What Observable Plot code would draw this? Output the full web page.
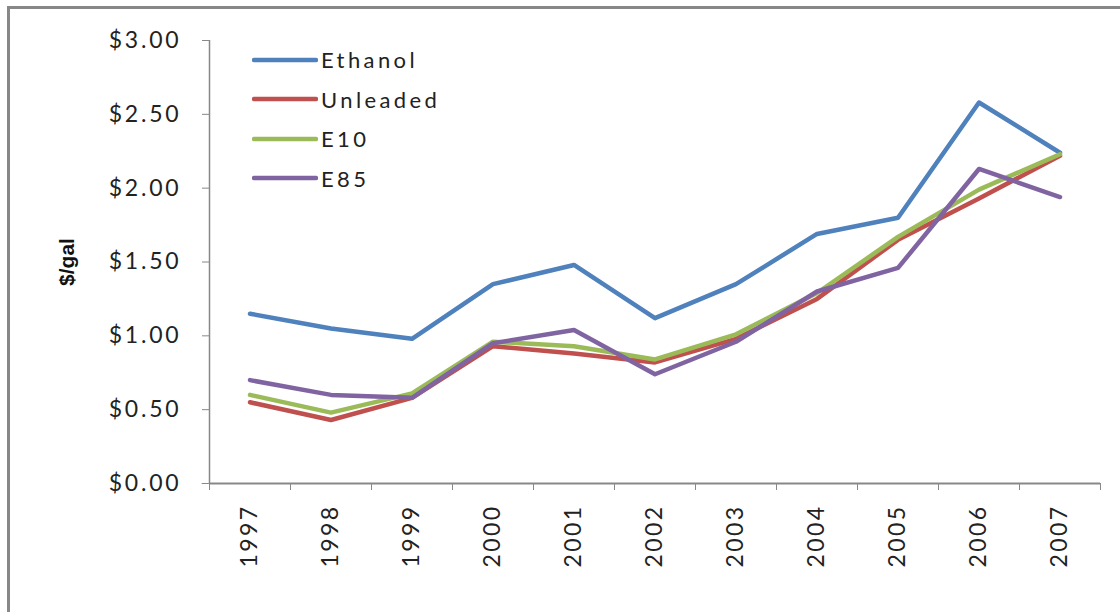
<!DOCTYPE html>
<html>
<head>
<meta charset="utf-8">
<script src="https://cdn.jsdelivr.net/npm/d3@7"></script>
<script src="https://cdn.jsdelivr.net/npm/@observablehq/plot@0.6"></script>
<style>
  html, body { margin: 0; padding: 0; background: #fff; }
  #wrap { position: relative; width: 1120px; height: 612px; overflow: hidden; }
  #frame { position: absolute; left: 7px; top: 6px; width: 1200px; height: 700px;
           border-left: 3px solid #888; border-top: 3px solid #888; }
  #chart { position: absolute; left: 0; top: 0; }
  #legend { position: absolute; left: 252px; top: 40px; font-family: Lato, sans-serif;
            font-size: 22px; letter-spacing: 3.4px; color: #222; }
  .item { display: flex; align-items: center; height: 39.5px; }
  .item svg { margin-right: 3px; }
  #ylabel { position: absolute; left: 67px; top: 262px; transform: translate(-50%, -50%) rotate(-90deg);
            font-family: "Liberation Sans", Arial, sans-serif; font-weight: bold; font-size: 21px; color: #111; white-space: nowrap; }
</style>
</head>
<body>
<div id="wrap">
  <div id="frame"></div>
  <div id="chart"></div>
  <div id="legend"></div>
  <div id="ylabel">$/gal</div>
</div>
<script>
const years = [1997, 1998, 1999, 2000, 2001, 2002, 2003, 2004, 2005, 2006, 2007];
const seriesNames = ["Ethanol", "Unleaded", "E10", "E85"];
const seriesColors = ["#4F81BD", "#C0504D", "#9BBB59", "#8064A2"];
const ethanol  = [1.15, 1.05, 0.98, 1.35, 1.48, 1.12, 1.35, 1.69, 1.80, 2.58, 2.24];
const unleaded = [0.55, 0.43, 0.58, 0.93, 0.88, 0.82, 0.98, 1.25, 1.65, 1.93, 2.22];
const e10      = [0.60, 0.48, 0.61, 0.96, 0.93, 0.84, 1.01, 1.29, 1.67, 1.99, 2.23];
const e85      = [0.70, 0.60, 0.58, 0.95, 1.04, 0.74, 0.96, 1.30, 1.46, 2.13, 1.94];
const yTicks = [0, 0.5, 1, 1.5, 2, 2.5, 3];

const seriesValues = [ethanol, unleaded, e10, e85];
const data = [];
seriesNames.forEach((name, i) => {
  years.forEach((yr, j) => data.push({series: name, year: yr, price: seriesValues[i][j]}));
});
const boundaries = years.map(y => y - 0.5).concat([years[years.length - 1] + 0.5]);

const chart = Plot.plot({
  width: 1120,
  height: 612,
  marginLeft: 209,
  marginRight: 20,
  marginTop: 40,
  marginBottom: 129,
  style: {fontFamily: "Lato, sans-serif", background: "transparent", overflow: "visible"},
  x: {domain: [boundaries[0], boundaries[boundaries.length - 1]]},
  y: {domain: [0, 3]},
  color: {domain: seriesNames, range: seriesColors},
  marks: [
    Plot.axisY({ticks: yTicks, tickFormat: d3.format("$.2f"), tickSize: 7, tickPadding: 21,
                fontSize: 23, label: null, stroke: "#888", fill: "#222"}),
    Plot.axisX({ticks: boundaries, tickFormat: () => "", tickSize: 7, label: null, stroke: "#888"}),
    Plot.axisX({ticks: years, tickFormat: d => String(d), tickSize: 0, tickRotate: -90, tickPadding: 21,
                fontSize: 23, label: null, fill: "#222"}),
    Plot.ruleX([boundaries[0]], {y1: 0, y2: 3, stroke: "#888", strokeWidth: 1.5}),
    Plot.ruleY([0], {x1: boundaries[0], x2: boundaries[boundaries.length - 1], stroke: "#888", strokeWidth: 2}),
    Plot.ruleY([0], {x1: boundaries[0] - 0.09, x2: boundaries[0], stroke: "#888", strokeWidth: 1}),
    Plot.line(data, {x: "year", y: "price", z: "series", stroke: "series", strokeWidth: 4.5,
                     strokeLinejoin: "round", strokeLinecap: "round"})
  ]
});
d3.select(chart).selectAll("g[aria-label='y-axis tick label'] text").style("letter-spacing", "2.8px");
d3.select(chart).selectAll("g[aria-label='x-axis tick label'] text").style("letter-spacing", "2.4px");
document.getElementById("chart").appendChild(chart);

const legend = document.getElementById("legend");
seriesNames.forEach((name, i) => {
  const div = document.createElement("div");
  div.className = "item";
  div.innerHTML = `<svg width="66" height="8"><line x1="2" y1="4" x2="64" y2="4" stroke="${seriesColors[i]}" stroke-width="4.5" stroke-linecap="round"/></svg><span>${name}</span>`;
  legend.appendChild(div);
});
</script>
</body>
</html>
